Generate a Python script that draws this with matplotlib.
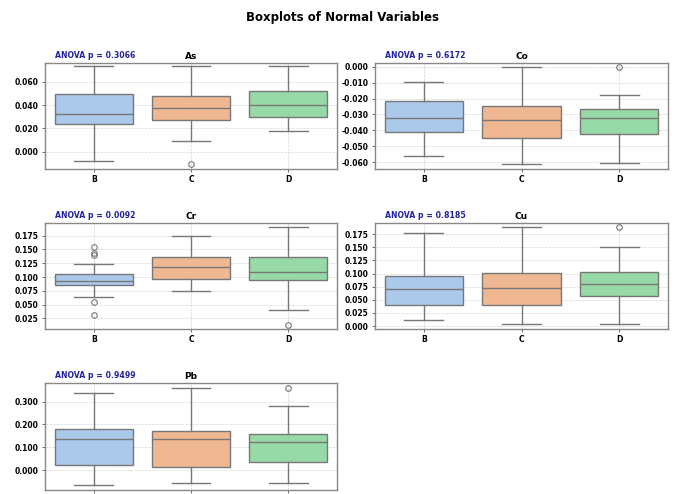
import colorsys
import matplotlib
matplotlib.use("Agg")
import matplotlib.pyplot as plt
import matplotlib.colors as mcolors

groups = ["B", "C", "D"]
variables = ["As", "Co", "Cr", "Cu", "Pb"]
anova_p = [0.3066, 0.6172, 0.0092, 0.8185, 0.9499]

# box statistics per variable: lists over groups B, C, D
whislo = {
    "As": [-0.008, 0.0089, 0.0175],
    "Co": [-0.0558, -0.061, -0.0606],
    "Cr": [0.064, 0.0741, 0.0397],
    "Cu": [0.0115, 0.0032, 0.0032],
    "Pb": [-0.066, -0.058, -0.058],
}
q1 = {
    "As": [0.0237, 0.0274, 0.0297],
    "Co": [-0.041, -0.0445, -0.0424],
    "Cr": [0.0861, 0.096, 0.0941],
    "Cu": [0.040, 0.040, 0.0567],
    "Pb": [0.022, 0.013, 0.036],
}
med = {
    "As": [0.0323, 0.0377, 0.0398],
    "Co": [-0.032, -0.0336, -0.032],
    "Cr": [0.0934, 0.1188, 0.1097],
    "Cu": [0.070, 0.072, 0.0808],
    "Pb": [0.136, 0.136, 0.124],
}
q3 = {
    "As": [0.0492, 0.048, 0.052],
    "Co": [-0.0215, -0.0245, -0.0266],
    "Cr": [0.1055, 0.1364, 0.1364],
    "Cu": [0.0948, 0.101, 0.1024],
    "Pb": [0.181, 0.1725, 0.157],
}
whishi = {
    "As": [0.0735, 0.0735, 0.0735],
    "Co": [-0.0094, 0.0, -0.0178],
    "Cr": [0.1231, 0.1745, 0.1908],
    "Cu": [0.1775, 0.1895, 0.1514],
    "Pb": [0.339, 0.361, 0.282],
}
fliers = {
    "As": [[], [-0.0105], []],
    "Co": [[], [], [0.0]],
    "Cr": [[0.155, 0.143, 0.1395, 0.0553, 0.0306], [], [0.0136]],
    "Cu": [[], [], [0.1883]],
    "Pb": [[], [], [0.361]],
}
yticks = {
    "As": [0.0, 0.02, 0.04, 0.06],
    "Co": [-0.06, -0.05, -0.04, -0.03, -0.02, -0.01, 0.0],
    "Cr": [0.025, 0.05, 0.075, 0.1, 0.125, 0.15, 0.175],
    "Cu": [0.0, 0.025, 0.05, 0.075, 0.1, 0.125, 0.15, 0.175],
    "Pb": [0.0, 0.1, 0.2, 0.3],
}
ylims = {
    "As": (-0.0148, 0.0763),
    "Co": (-0.0642, 0.0025),
    "Cr": (0.0057, 0.1986),
    "Cu": (-0.0057, 0.197),
    "Pb": (-0.085, 0.383),
}

pastel = ["#a1c9f4", "#ffb482", "#8de5a1"]


def desat(c, s=0.75):
    r, g, b = mcolors.to_rgb(c)
    h, l, sat = colorsys.rgb_to_hls(r, g, b)
    return colorsys.hls_to_rgb(h, l, sat * s)


box_colors = [desat(c) for c in pastel]
line_color = "#777777"

W, H = 677, 494
fig = plt.figure(figsize=(W / 100, H / 100), dpi=100)
fig.patch.set_facecolor("white")

positions_px = {
    "As": (45, 62.7, 292, 106.3),
    "Co": (375, 62.7, 293, 106.3),
    "Cr": (45, 222.7, 292, 106.3),
    "Cu": (375, 222.7, 293, 106.3),
    "Pb": (45, 382.7, 292, 106.8),
}

fig.text(343 / W, 1 - 17 / H, "Boxplots of Normal Variables", ha="center", va="center",
         fontsize=8.5, fontweight="bold")

for var, p in zip(variables, anova_p):
    x0, y0, w, h = positions_px[var]
    ax = fig.add_axes([x0 / W, 1 - (y0 + h) / H, w / W, h / H])
    stats = []
    for i, g in enumerate(groups):
        stats.append(dict(label=g, whislo=whislo[var][i], q1=q1[var][i], med=med[var][i],
                          q3=q3[var][i], whishi=whishi[var][i], fliers=fliers[var][i]))
    bp = ax.bxp(stats, positions=range(len(groups)), widths=0.8, capwidths=0.4,
                patch_artist=True, manage_ticks=False,
                boxprops=dict(edgecolor=line_color, linewidth=1.0),
                whiskerprops=dict(color=line_color, linewidth=1.0),
                capprops=dict(color=line_color, linewidth=1.0),
                medianprops=dict(color=line_color, linewidth=1.0),
                flierprops=dict(marker="o", markerfacecolor="none", markeredgecolor=line_color,
                                markersize=4, markeredgewidth=0.8))
    for patch, c in zip(bp["boxes"], box_colors):
        patch.set_facecolor(c)
    ax.set_xlim(-0.5, 2.5)
    ax.set_ylim(*ylims[var])
    ax.set_xticks(range(len(groups)))
    ax.set_xticklabels(groups, fontsize=5.5, fontweight="bold")
    ax.set_yticks(yticks[var])
    ax.set_yticklabels(["{:.3f}".format(v) for v in yticks[var]], fontsize=5.5, fontweight="bold")
    ax.tick_params(axis="both", length=2.5, width=0.6, color="#555555", pad=2)
    ax.grid(True, linestyle="--", linewidth=0.5, color="#cccccc", alpha=0.8)
    ax.set_axisbelow(True)
    for s in ax.spines.values():
        s.set_color("#888888")
        s.set_linewidth(1.0)
    ax.set_title(var, fontsize=6.5, fontweight="bold", pad=3)
    ax.text(0.034, 1.07, f"ANOVA p = {p:.4f}", transform=ax.transAxes, ha="left", va="center",
            fontsize=5.6, fontweight="bold", color="#22229a")

fig.savefig("out.png", dpi=100)
